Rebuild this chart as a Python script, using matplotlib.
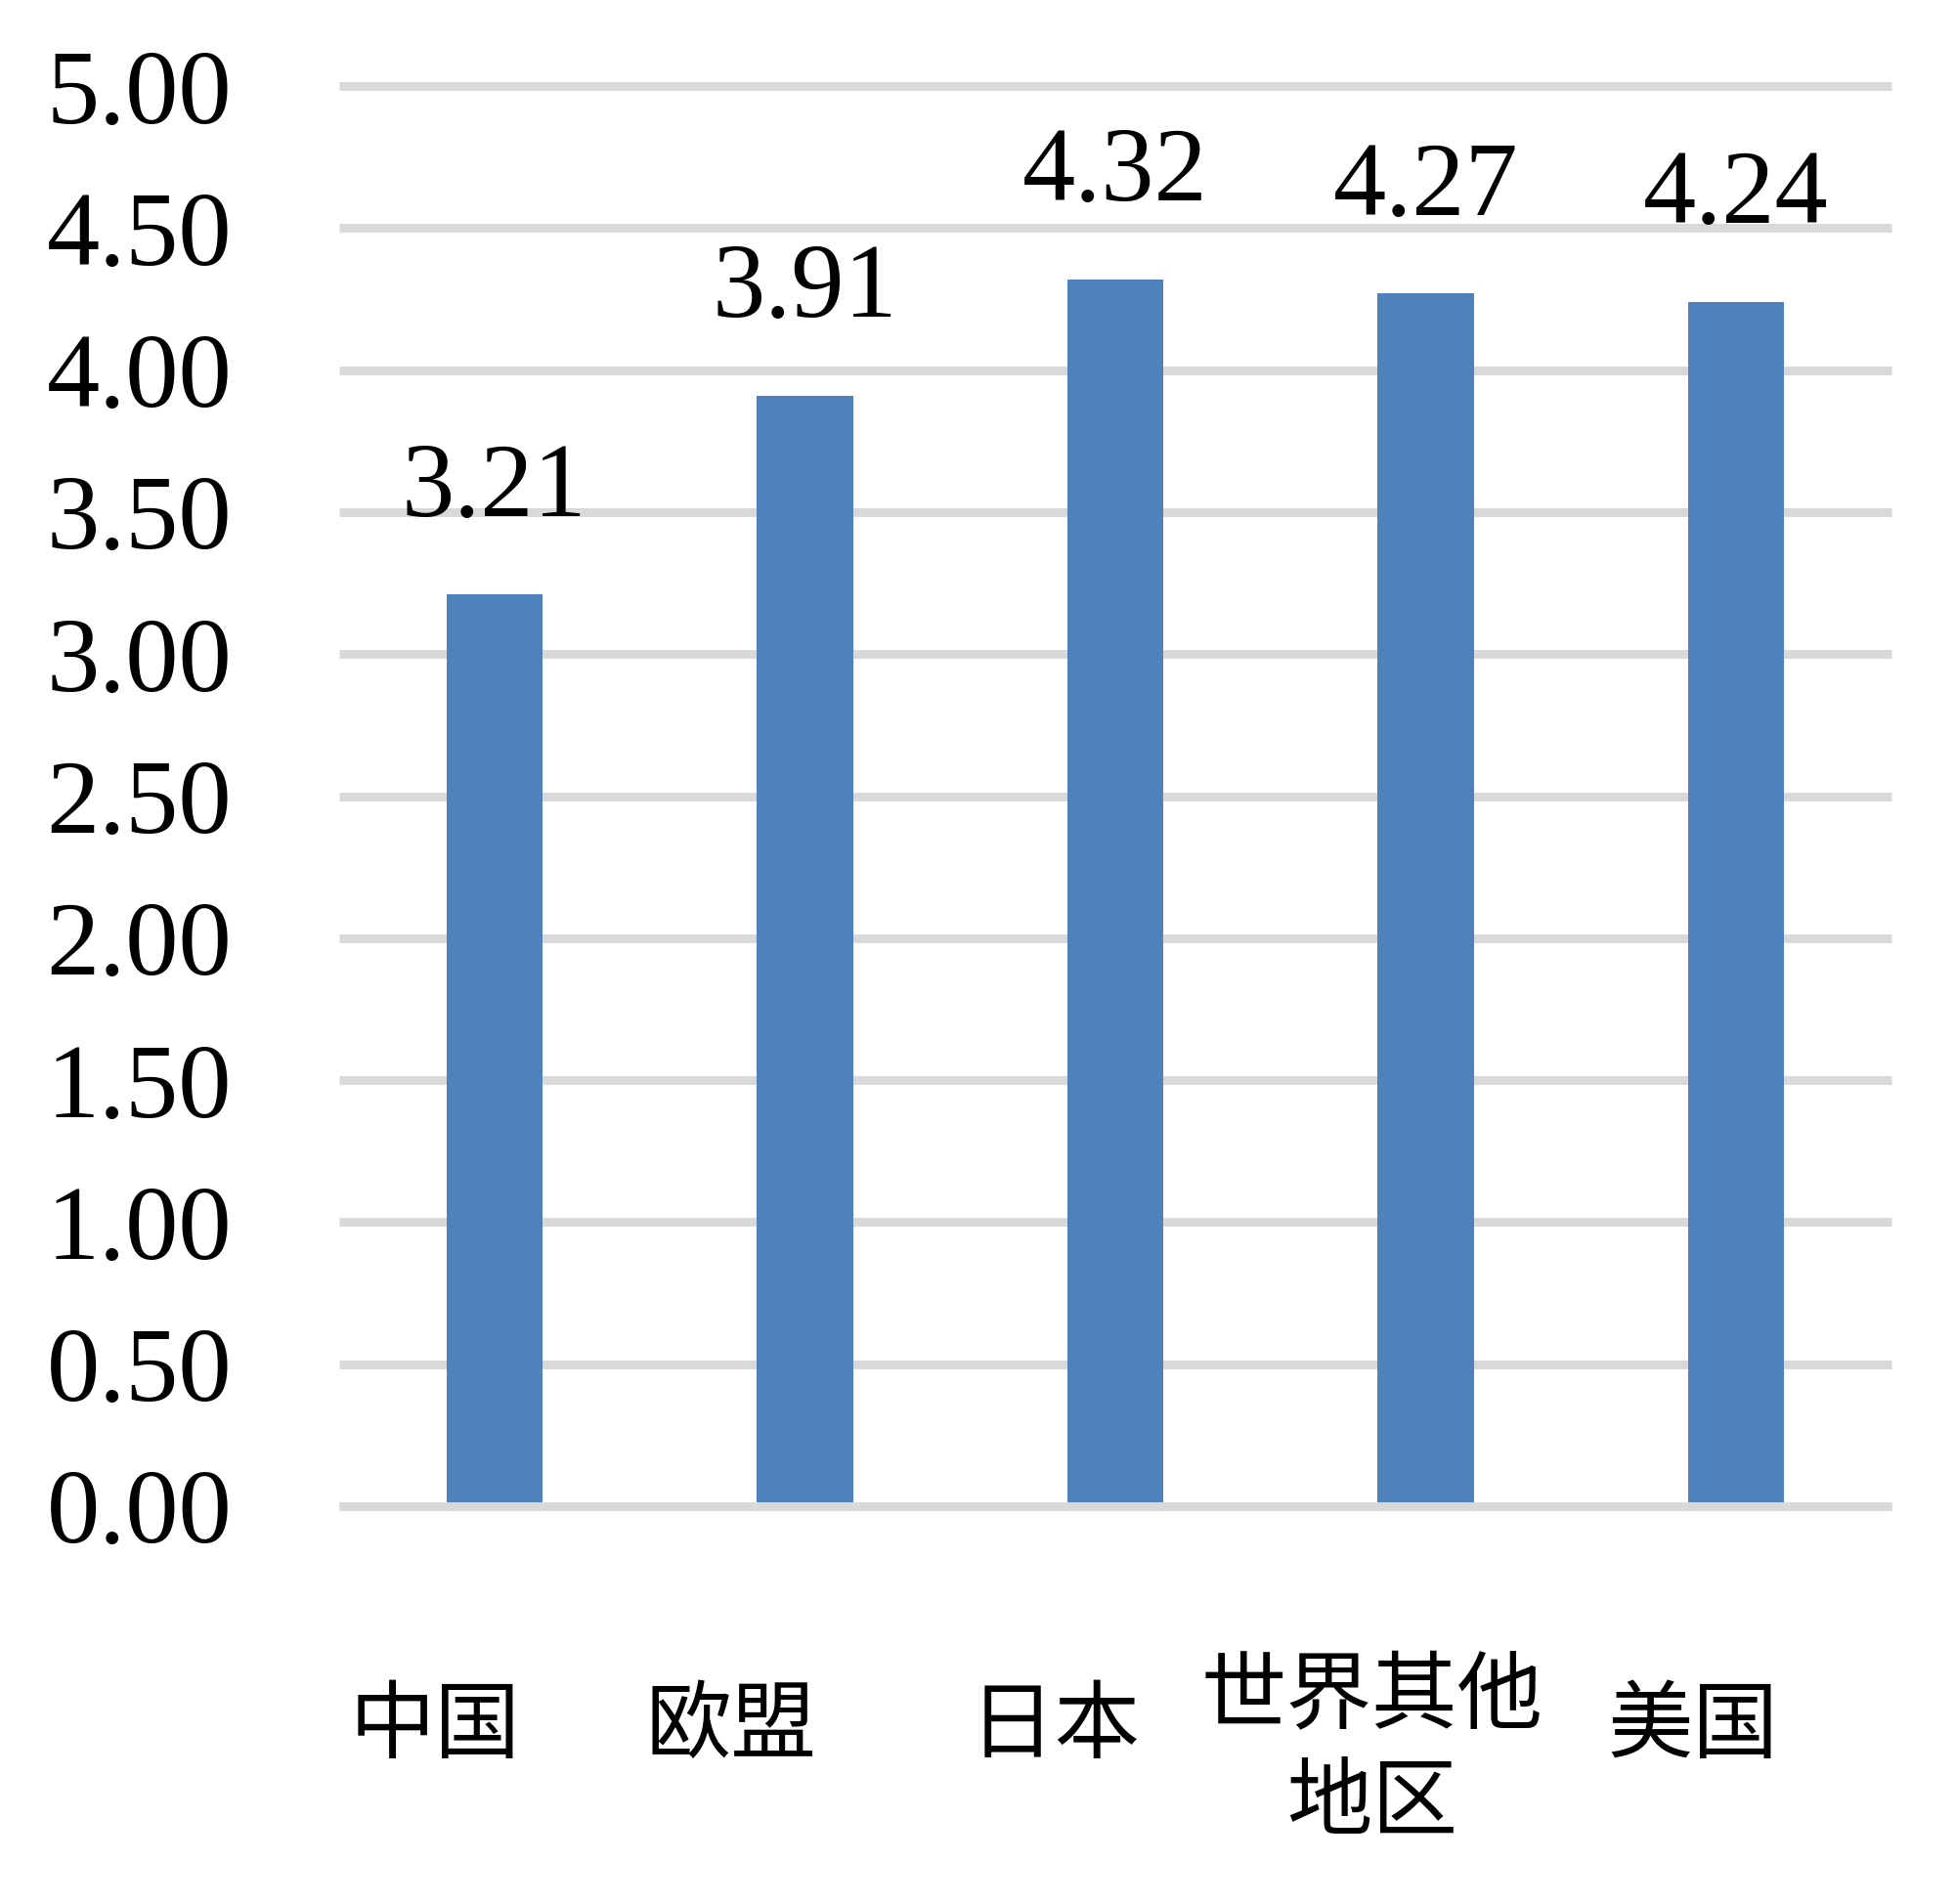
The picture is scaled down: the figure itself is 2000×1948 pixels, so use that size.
import matplotlib
matplotlib.use("Agg")
import matplotlib.pyplot as plt
import matplotlib.transforms as mtransforms

categories = ["中国", "欧盟", "日本", "世界其他\n地区", "美国"]
values = [3.21, 3.91, 4.32, 4.27, 4.24]
yticks = [0.0, 0.5, 1.0, 1.5, 2.0, 2.5, 3.0, 3.5, 4.0, 4.5, 5.0]

# label placement tweaks (pixels), as in the reference layout
label_dx_px = [-61, -75, -62, -55, -44]
label_yc_px = [1767, 1767, 1767, 1791, 1767]

W, H = 2000, 1948
fig = plt.figure(figsize=(W / 100, H / 100), dpi=100)
ax = fig.add_axes([347 / W, 1 - 1541 / H, 1588 / W, (1541 - 88) / H])

bar_color = "#4F81BD"
grid_color = "#D9D9D9"
num_font = "Liberation Serif"
cjk_font = ["Noto Sans CJK SC", "DejaVu Sans"]

x = list(range(len(categories)))
ax.bar(x, values, width=0.31, color=bar_color, zorder=2)
ax.set_xlim(-0.5, len(categories) - 0.5)
ax.set_ylim(0, 5)
ax.set_yticks(yticks)
ax.set_yticklabels([f"{v:.2f}" for v in yticks], fontsize=78, family=num_font)
ax.tick_params(axis="y", length=0, pad=79)
ax.set_xticks([])
ax.yaxis.grid(True, color=grid_color, linewidth=6.5, zorder=0)
ax.set_axisbelow(True)
for gl in ax.get_ygridlines():
    gl.set_clip_on(False)
    gl.set_solid_capstyle("butt")
ax.axhline(0, color=grid_color, linewidth=6.5, zorder=3, clip_on=False,
           solid_capstyle="butt")
for s in ax.spines.values():
    s.set_visible(False)

for xi, v in zip(x, values):
    ax.annotate(f"{v:.2f}", (xi, v), xytext=(0, 58), textcoords="offset points",
                ha="center", va="baseline", fontsize=78, family=num_font)

for xi, lab, dx, yc in zip(x, categories, label_dx_px, label_yc_px):
    trans = mtransforms.blended_transform_factory(ax.transData, fig.transFigure)
    trans = trans + mtransforms.ScaledTranslation(dx / 100, 0, fig.dpi_scale_trans)
    fig.text(xi, 1 - yc / H, lab, transform=trans, ha="center", va="center",
             multialignment="center", fontsize=63, family=cjk_font, linespacing=1.28)

fig.savefig("out.png", dpi=100, facecolor="white")
